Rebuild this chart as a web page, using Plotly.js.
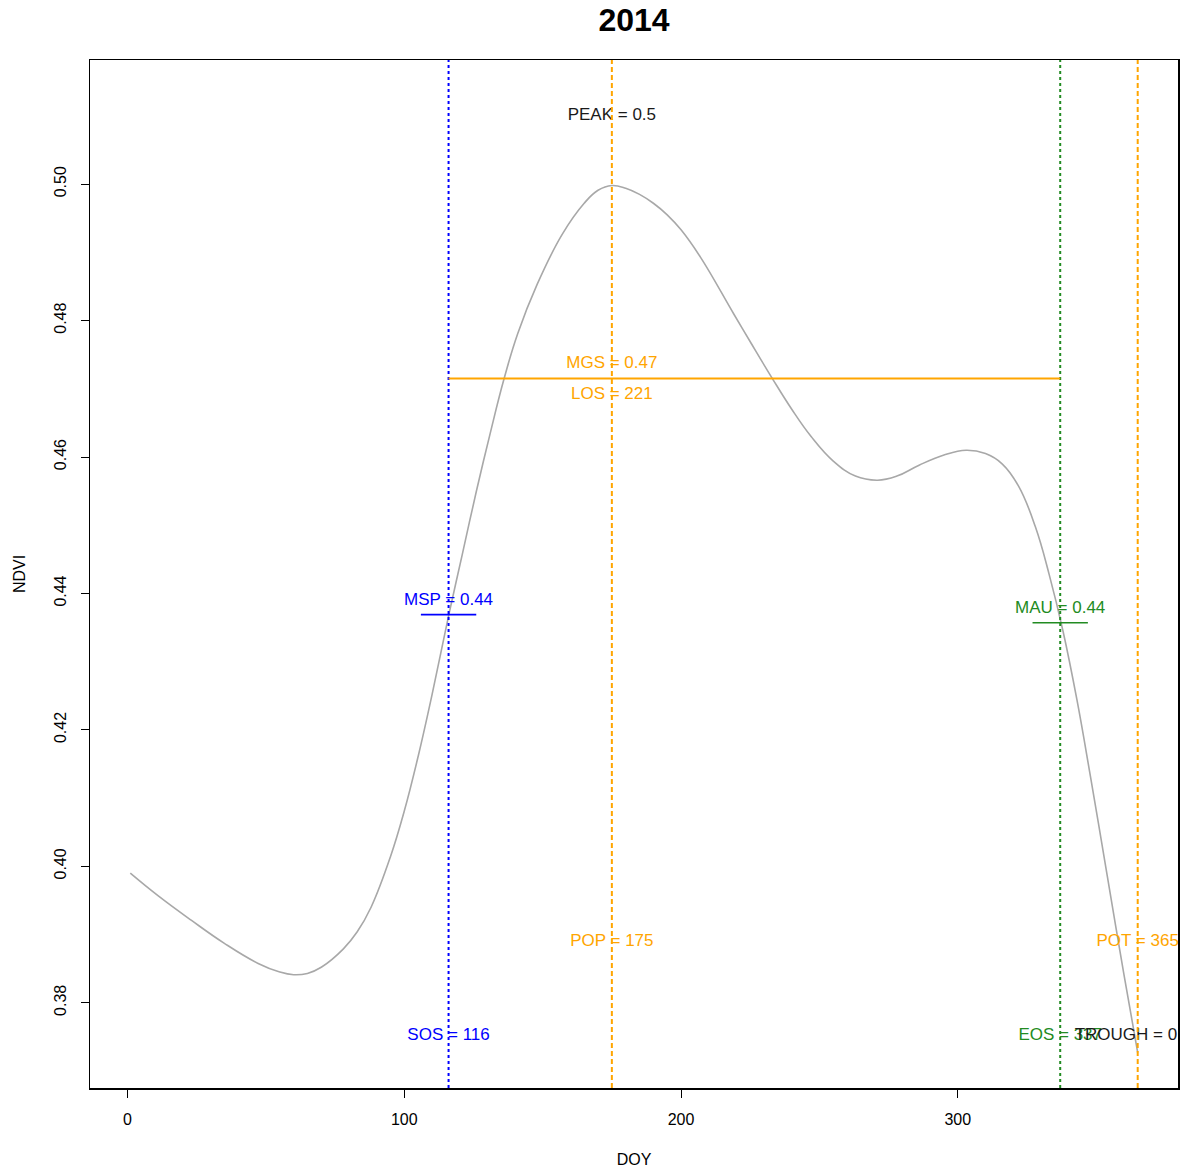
<!DOCTYPE html>
<html>
<head>
<meta charset="utf-8">
<script src="https://cdn.plot.ly/plotly-3.0.1.min.js"></script>
<style>html,body{margin:0;padding:0;background:#fff;}#chart{width:1184px;height:1171px;}</style>
</head>
<body>
<div id="chart"></div>
<script>
// Smoothed NDVI curve (day of year vs NDVI)
const doy  = [1, 11, 23, 35, 47, 55, 60, 65, 70, 78, 83, 88, 95, 100, 105, 110, 116, 121, 126, 131, 136, 141, 148, 157, 165, 170, 175, 180, 185, 190, 195, 200, 207, 219, 225, 233, 240, 247, 255, 263, 271, 278, 286, 295, 303, 310, 316, 322, 328, 333, 338, 343, 348, 354, 360, 365];
const ndvi = [0.3990, 0.3957, 0.3921, 0.3887, 0.3858, 0.3845, 0.3841, 0.3843, 0.3852, 0.3879, 0.3904, 0.3940, 0.4014, 0.4081, 0.4161, 0.4251, 0.4367, 0.4458, 0.4549, 0.4634, 0.4714, 0.4781, 0.4853, 0.4926, 0.4972, 0.4991, 0.4998, 0.4994, 0.4985, 0.4972, 0.4955, 0.4933, 0.4893, 0.4810, 0.4769, 0.4715, 0.4670, 0.4630, 0.4594, 0.4572, 0.4566, 0.4572, 0.4588, 0.4603, 0.4610, 0.4605, 0.4590, 0.4557, 0.4498, 0.4428, 0.4345, 0.4245, 0.4130, 0.3986, 0.3842, 0.3727];

// Phenology metrics
const SOS = 116, POP = 175, EOS = 337, POT = 365;
const PEAK = 0.4998, MGS = 0.4715, MSP = 0.4369, MAU = 0.4357, TROUGH = 0.3727;
const LOS = EOS - SOS;

const xTicks = [0, 100, 200, 300];
const yTicks = [0.38, 0.40, 0.42, 0.44, 0.46, 0.48, 0.50];

const fmt = v => String(Number(v.toFixed(2)));
const FONT = 'Liberation Sans, Arial, Helvetica, sans-serif';
const BLUE = '#0000ff', ORANGE = '#ffa500', GREEN = '#228b22';
const yLow = 0.3889, yBottom = 0.3751;

function textTrace(xs, ys, texts, color) {
  return {x: xs, y: ys, text: texts, mode: 'text', type: 'scatter', textposition: 'middle center',
          cliponaxis: true, hoverinfo: 'skip', showlegend: false,
          textfont: {family: FONT, size: 17, color: color}};
}

const traces = [
  {x: doy, y: ndvi, mode: 'lines', type: 'scatter', line: {color: '#a8a8a8', width: 1.6, shape: 'spline', smoothing: 1.2}, showlegend: false, hoverinfo: 'skip'},
  textTrace([POP], [PEAK + 0.0102], ['PEAK = ' + fmt(PEAK)], '#1a1a1a'),
  textTrace([POP, POP, POP, POT], [MGS + 0.0021, MGS - 0.0024, yLow, yLow], ['MGS = ' + fmt(MGS), 'LOS = ' + LOS, 'POP = ' + POP, 'POT = ' + POT], ORANGE),
  textTrace([SOS, SOS], [MSP + 0.0020, yBottom], ['MSP = ' + fmt(MSP), 'SOS = ' + SOS], BLUE),
  textTrace([EOS, EOS], [MAU + 0.0020, yBottom], ['MAU = ' + fmt(MAU), 'EOS = ' + EOS], GREEN),
  textTrace([POT], [yBottom], ['TROUGH = ' + fmt(TROUGH)], '#1a1a1a')
];

const vline = (x, color, dash) => ({type: 'line', xref: 'x', yref: 'paper', x0: x, x1: x, y0: 0, y1: 1, layer: 'above', line: {color: color, width: 2, dash: dash}});
const hseg = (x0, x1, y, color, w) => ({type: 'line', xref: 'x', yref: 'y', x0: x0, x1: x1, y0: y, y1: y, layer: 'above', line: {color: color, width: w}});

const shapes = [
  vline(SOS, BLUE, '3px,3px'),
  vline(POP, ORANGE, '5px,3px'),
  vline(EOS, GREEN, '3px,3px'),
  vline(POT, ORANGE, '5px,3px'),
  hseg(SOS, EOS, MGS, ORANGE, 2),
  hseg(SOS - 10, SOS + 10, MSP, BLUE, 1.6),
  hseg(EOS - 10, EOS + 10, MAU, GREEN, 1.6)
];

const layout = {
  width: 1184, height: 1171,
  margin: {l: 90, r: 6, t: 60, b: 83},
  paper_bgcolor: '#fff', plot_bgcolor: '#fff',
  font: {family: FONT, color: '#000', size: 16},
  title: {text: '<b>2014</b>', font: {family: FONT, size: 32, color: '#000'}, x: 0.5, xref: 'paper', xanchor: 'center', y: 1 - 20 / 1171, yref: 'container', yanchor: 'middle'},
  xaxis: {range: [-13.56, 379.56], tickvals: xTicks, ticktext: xTicks.map(String), ticks: 'outside', ticklen: 8, tickwidth: 1, tickcolor: '#000',
          showgrid: false, zeroline: false, showline: true, mirror: true, linecolor: '#000', linewidth: 1.5,
          tickfont: {family: FONT, size: 16}, ticklabelstandoff: 8,
          title: {text: 'DOY', font: {family: FONT, size: 16}, standoff: 27}},
  yaxis: {range: [0.3675, 0.5182], tickvals: yTicks, ticktext: yTicks.map(v => v.toFixed(2)), ticks: 'outside', ticklen: 8, tickwidth: 1, tickcolor: '#000',
          showgrid: false, zeroline: false, showline: true, mirror: true, linecolor: '#000', linewidth: 1.5,
          tickangle: -90, tickfont: {family: FONT, size: 16}, ticklabelstandoff: 8,
          title: {text: 'NDVI', font: {family: FONT, size: 16}, standoff: 22}},
  shapes: shapes,
  showlegend: false
};

Plotly.newPlot('chart', traces, layout, {staticPlot: true, displayModeBar: false});
</script>
</body>
</html>
